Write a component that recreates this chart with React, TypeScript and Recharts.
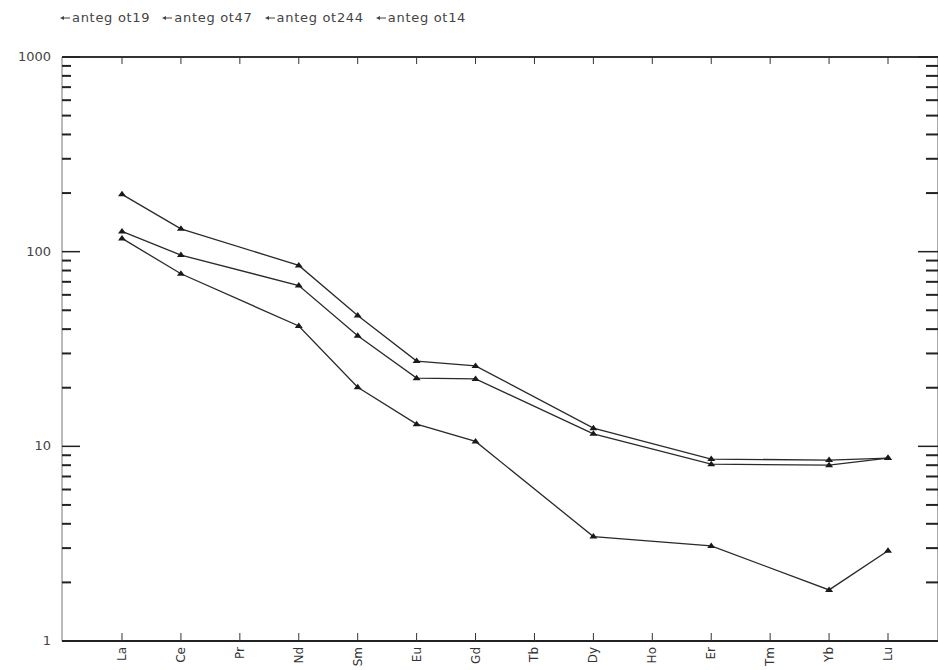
import { LineChart, Line, XAxis, YAxis } from 'recharts'

// REE spider diagram, chondrite-normalised (log y), 4 samples
const elements = ['La', 'Ce', 'Pr', 'Nd', 'Sm', 'Eu', 'Gd', 'Tb', 'Dy', 'Ho', 'Er', 'Tm', 'Yb', 'Lu']
const ot19 = [197, 131, null, 85, 47, 27.4, 25.9, null, 12.4, null, 8.6, null, 8.5, 8.7]
const ot47 = [127, 96, null, 67, 37, 22.4, 22.2, null, 11.6, null, 8.1, null, 8.0, 8.7]
const ot244 = [117, 77, null, 41.5, 20.1, 13, 10.6, null, 3.44, null, 3.08, null, 1.83, 2.91]
const ot14 = [null, null, null, null, null, null, null, null, null, null, null, null, null, null]
const seriesNames = ['anteg ot19', 'anteg ot47', 'anteg ot244', 'anteg ot14']
const yTicks = [1, 2, 3, 4, 5, 6, 7, 8, 9, 10, 20, 30, 40, 50, 60, 70, 80, 90, 100,
  200, 300, 400, 500, 600, 700, 800, 900, 1000]
const majorTicks = [1, 10, 100, 1000]

const data = elements.map((el, i) => ({ el, ot19: ot19[i], ot47: ot47[i], ot244: ot244[i], ot14: ot14[i] }))

const FONT = '"DejaVu Sans", sans-serif'

function LeftTick({ x, y, payload }: any) {
  const major = majorTicks.includes(payload.value)
  return (
    <g>
      <line x1={x} x2={x + (major ? 18 : 9)} y1={y} y2={y} stroke="#222" strokeWidth={major ? 1.5 : 2} />
      {major && (
        <text x={x - 11} y={y} dy={4} textAnchor="end" fontSize={13} fill="#444" fontFamily={FONT}>
          {payload.value}
        </text>
      )}
    </g>
  )
}

function RightTick({ x, y, payload }: any) {
  const major = majorTicks.includes(payload.value)
  return <line x1={x - (major ? 20 : 12)} x2={x} y1={y} y2={y} stroke="#222" strokeWidth={major ? 1.5 : 2} />
}

function BottomTick({ x, y, payload }: any) {
  return (
    <g>
      <line x1={x} x2={x} y1={y} y2={y - 8} stroke="#333" />
      <text transform={`translate(${x + 4},${y + 6}) rotate(-90)`} textAnchor="end" fontSize={12}
        fill="#333" fontFamily={FONT}>
        {payload.value}
      </text>
    </g>
  )
}

function TopTick({ x, y }: any) {
  return <line x1={x} x2={x} y1={y} y2={y + 7} stroke="#333" />
}

function Tri({ cx, cy, value }: any) {
  if (value == null || cx == null || cy == null) return <g />
  return <path d={`M${cx},${cy - 3.5}L${cx + 4},${cy + 2}L${cx - 4},${cy + 2}Z`} fill="#1a1a1a" />
}

function LegendMark() {
  return (
    <svg width={10} height={8} style={{ marginRight: 2 }}>
      <line x1={2} x2={10} y1={4} y2={4} stroke="#444" strokeWidth={1} />
      <path d="M0,4L4,2L4,6Z" fill="#444" />
    </svg>
  )
}

export default function App() {
  const keys = ['ot19', 'ot47', 'ot244']
  return (
    <div style={{ position: 'absolute', left: 0, top: 0, width: 938, height: 670, background: '#fff', overflow: 'hidden' }}>
      <div style={{
        position: 'absolute', left: 60, top: 10, display: 'flex', gap: 12, fontFamily: FONT,
        fontSize: 13, color: '#444', letterSpacing: 0.7, alignItems: 'center', whiteSpace: 'nowrap', zIndex: 1,
      }}>
        {seriesNames.map((n) => (
          <span key={n} style={{ display: 'flex', alignItems: 'center' }}><LegendMark />{n}</span>
        ))}
      </div>
      <LineChart width={958} height={670} data={data} margin={{ top: 56, right: 0, bottom: 0, left: 0 }}>
        <XAxis xAxisId="b" dataKey="el" height={29} padding={{ left: 60, right: 50 }} interval={0}
          tickSize={0} tickMargin={0} tick={BottomTick} axisLine={{ stroke: '#222', strokeWidth: 2 }} />
        <XAxis xAxisId="t" dataKey="el" orientation="top" height={1} padding={{ left: 60, right: 50 }}
          interval={0} tickSize={0} tickMargin={0} tick={TopTick} axisLine={{ stroke: '#333', strokeWidth: 2 }} />
        <YAxis yAxisId="l" type="number" scale="log" domain={[1, 1000]} ticks={yTicks} interval={0}
          width={62} tickSize={0} tickMargin={0} tick={LeftTick} axisLine={{ stroke: '#777' }} />
        <YAxis yAxisId="r" orientation="right" type="number" scale="log" domain={[1, 1000]} ticks={yTicks}
          interval={0} width={20} tickSize={0} tickMargin={0} tick={RightTick} axisLine={{ stroke: '#555' }}
          allowDataOverflow />
        {keys.map((k) => (
          <Line key={k} xAxisId="b" yAxisId="l" dataKey={k} stroke="#2a2a2a" strokeWidth={1.3}
            connectNulls dot={Tri} activeDot={false} isAnimationActive={false} />
        ))}
        <Line xAxisId="t" yAxisId="r" dataKey="ot14" stroke="#2a2a2a" strokeWidth={1.3}
          connectNulls dot={Tri} activeDot={false} isAnimationActive={false} />
      </LineChart>
    </div>
  )
}
